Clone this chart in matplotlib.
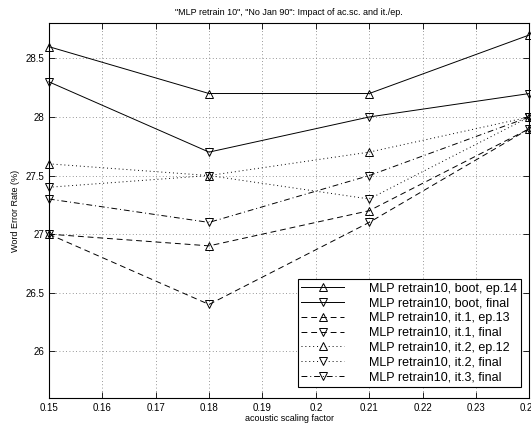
import matplotlib
matplotlib.use("Agg")
import matplotlib.pyplot as plt
import numpy as np

plt.rcParams['font.family'] = ['Liberation Sans', 'DejaVu Sans']

# acoustic scaling factors
acsc = [0.15, 0.18, 0.21, 0.24]

# word error rates (%)
boot_ep14 = [28.6, 28.2, 28.2, 28.7]
boot_final = [28.3, 27.7, 28.0, 28.2]
it1_ep13 = [27.0, 26.9, 27.2, 27.9]
it1_final = [27.0, 26.4, 27.1, 27.9]
it2_ep12 = [27.6, 27.5, 27.7, 28.0]
it2_final = [27.4, 27.5, 27.3, 28.0]
it3_final = [27.3, 27.1, 27.5, 28.0]

series = [
    (boot_ep14, '-', '^', 'MLP retrain10, boot, ep.14'),
    (boot_final, '-', 'v', 'MLP retrain10, boot, final'),
    (it1_ep13, (0, (6, 4)), '^', 'MLP retrain10, it.1, ep.13'),
    (it1_final, (0, (6, 4)), 'v', 'MLP retrain10, it.1, final'),
    (it2_ep12, (0, (1, 3)), '^', 'MLP retrain10, it.2, ep.12'),
    (it2_final, (0, (1, 3)), 'v', 'MLP retrain10, it.2, final'),
    (it3_final, (0, (6, 3, 1, 3)), 'v', 'MLP retrain10, it.3, final'),
]

fig = plt.figure(figsize=(5.31, 4.30), dpi=100)
ax = fig.add_axes([0.092, 0.074, 0.905, 0.872])

for vals, ls, mk, lab in series:
    ax.plot(acsc, vals, linestyle=ls, marker=mk, color='black', lw=0.7,
            markersize=5.5, markerfacecolor='none', markeredgewidth=0.7,
            label=lab, clip_on=False)

ax.set_xlim(0.15, 0.24)
ax.set_ylim(25.6, 28.8)
ax.set_xticks(np.arange(0.15, 0.2401, 0.01))
ax.set_xticklabels(['0.15', '0.16', '0.17', '0.18', '0.19', '0.2',
                    '0.21', '0.22', '0.23', '0.24'])
ax.set_yticks([26, 26.5, 27, 27.5, 28, 28.5])
ax.set_yticklabels(['26', '26.5', '27', '27.5', '28', '28.5'])
ax.tick_params(direction='in', labelsize=7, top=True, right=True, length=4, width=0.6)
ax.grid(True, linestyle=(0, (1, 3)), color='#777777', lw=0.6)
for s in ax.spines.values():
    s.set_linewidth(0.8)

ax.set_title('"MLP retrain 10", "No Jan 90": Impact of ac.sc. and it./ep.', fontsize=6.5, pad=6)
ax.set_xlabel('acoustic scaling factor', fontsize=6.5, labelpad=1)
ax.set_ylabel('Word Error Rate (%)', fontsize=6.5, labelpad=4)

leg = ax.legend(loc='lower right', fontsize=9, fancybox=False, edgecolor='black',
                framealpha=1, borderpad=0.3, labelspacing=0.22, handlelength=3.4,
                handletextpad=2.0, bbox_to_anchor=(0.982, 0.03), borderaxespad=0)
leg.get_frame().set_linewidth(0.8)

fig.savefig('out.png', dpi=100)
